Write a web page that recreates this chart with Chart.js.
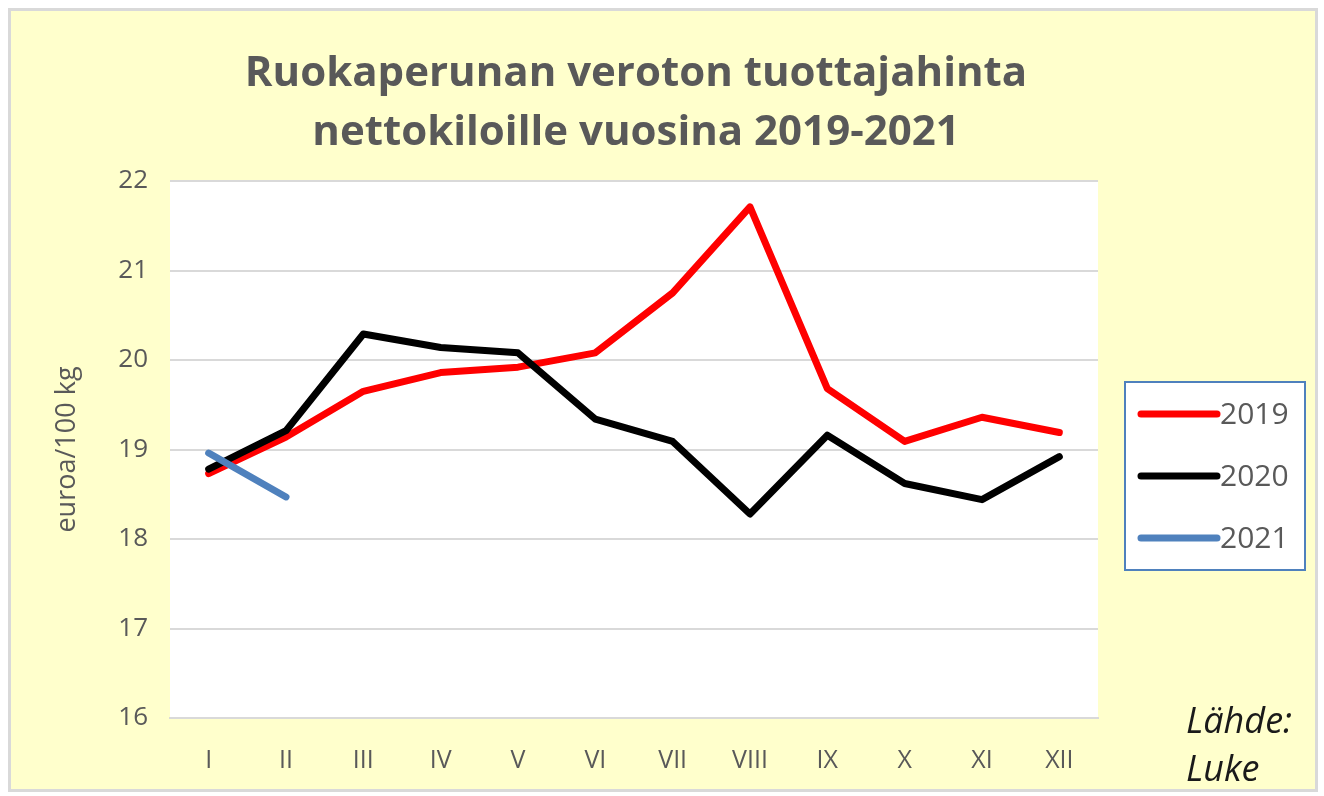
<!DOCTYPE html>
<html>
<head>
<meta charset="utf-8">
<script src="https://cdn.jsdelivr.net/npm/chart.js@4.4.0/dist/chart.umd.min.js"></script>
<style>
    html, body { margin: 0; padding: 0; background: #ffffff; }
    #frame {
        position: absolute;
        left: 8px; top: 8px;
        width: 1304px; height: 778px;
        border: 3px solid #d9d9d9;
        background: #ffffcc;
    }
    #chart { display: block; }
</style>
</head>
<body>
<div id="frame"><canvas id="chart" width="1304" height="778"></canvas></div>
<script>
// Ruokaperunan hinnat, euroa/100 kg
const months = ['I', 'II', 'III', 'IV', 'V', 'VI', 'VII', 'VIII', 'IX', 'X', 'XI', 'XII'];
const years = ['2019', '2020', '2021'];
const price2019 = [18.73, 19.14, 19.65, 19.86, 19.92, 20.08, 20.75, 21.71, 19.68, 19.09, 19.36, 19.19];
const price2020 = [18.78, 19.21, 20.29, 20.14, 20.08, 19.34, 19.09, 18.28, 19.16, 18.62, 18.44, 18.92];
const price2021 = [18.96, 18.47];
const titleLines = ['Ruokaperunan veroton tuottajahinta', 'nettokiloille vuosina 2019-2021'];
const axisTitle = 'euroa/100 kg';
const sourceLines = ['Lähde:', 'Luke'];

const textGray = '#595959';
const gridGray = '#d9d9d9';

// title, legend box and source note drawn on top of the chart
const decorations = {
    id: 'decorations',
    beforeDraw(chart) {
        const { ctx, chartArea } = chart;
        ctx.save();
        ctx.fillStyle = '#ffffff';
        ctx.fillRect(chartArea.left, chartArea.top, chartArea.right - chartArea.left, chartArea.bottom - chartArea.top);
        ctx.restore();
    },
    afterDraw(chart) {
        const { ctx, chartArea } = chart;
        ctx.save();

        // title
        ctx.fillStyle = textGray;
        ctx.font = 'bold 42px "Open Sans"';
        ctx.textAlign = 'center';
        ctx.textBaseline = 'middle';
        titleLines.forEach((line, i) => {
            ctx.fillText(line, 625, 63 + i * 59);
        });

        // legend
        const boxLeft = chartArea.right + 27;
        const boxTop = 371;
        ctx.strokeStyle = '#4f81bd';
        ctx.lineWidth = 2;
        ctx.fillStyle = '#ffffff';
        ctx.fillRect(boxLeft, boxTop, 180, 188);
        ctx.strokeRect(boxLeft, boxTop, 180, 188);
        ctx.font = '30px "Open Sans"';
        ctx.textAlign = 'left';
        ctx.lineCap = 'round';
        chart.data.datasets.forEach((ds, i) => {
            const y = boxTop + 32 + i * 62;
            ctx.strokeStyle = ds.borderColor;
            ctx.lineWidth = 7;
            ctx.beginPath();
            ctx.moveTo(boxLeft + 16, y);
            ctx.lineTo(boxLeft + 92, y);
            ctx.stroke();
            ctx.fillStyle = textGray;
            ctx.fillText(ds.label, boxLeft + 95, y + 1);
        });

        // source
        ctx.fillStyle = '#1a1a1a';
        ctx.font = 'italic 36px "Open Sans"';
        sourceLines.forEach((line, i) => {
            ctx.fillText(line, 1175, 712 + i * 48);
        });
        ctx.restore();
    }
};

const ctx = document.getElementById('chart').getContext('2d');
new Chart(ctx, {
    type: 'line',
    data: {
        labels: months,
        datasets: [
            { label: years[0], data: price2019, borderColor: '#ff0000', order: 3 },
            { label: years[1], data: price2020, borderColor: '#000000', order: 2 },
            { label: years[2], data: price2021, borderColor: '#4f81bd', order: 1 }
        ].map(ds => Object.assign(ds, {
            borderWidth: 7,
            tension: 0,
            pointRadius: 0,
            borderCapStyle: 'round',
            borderJoinStyle: 'round',
            fill: false
        }))
    },
    options: {
        responsive: false,
        animation: false,
        layout: { padding: { left: 40, right: 217, top: 170, bottom: 0 } },
        plugins: {
            legend: { display: false },
            title: { display: false },
            tooltip: { enabled: false }
        },
        scales: {
            x: {
                offset: true,
                grid: { display: false, drawTicks: false },
                border: { display: true, color: gridGray, width: 2 },
                ticks: {
                    color: textGray,
                    font: { family: 'Open Sans', size: 25 },
                    padding: 28,
                    maxRotation: 0
                },
                afterFit(scale) { scale.height = 71; }
            },
            y: {
                min: 16,
                max: 22,
                grid: { color: gridGray, lineWidth: 2, drawTicks: false },
                border: { display: false },
                ticks: {
                    stepSize: 1,
                    color: textGray,
                    font: { family: 'Open Sans', size: 26 },
                    padding: 22
                },
                title: {
                    display: true,
                    text: axisTitle,
                    color: textGray,
                    font: { family: 'Open Sans', size: 27 },
                    padding: 0
                },
                afterFit(scale) { scale.width = 119; }
            }
        }
    },
    plugins: [decorations]
});
</script>
</body>
</html>
